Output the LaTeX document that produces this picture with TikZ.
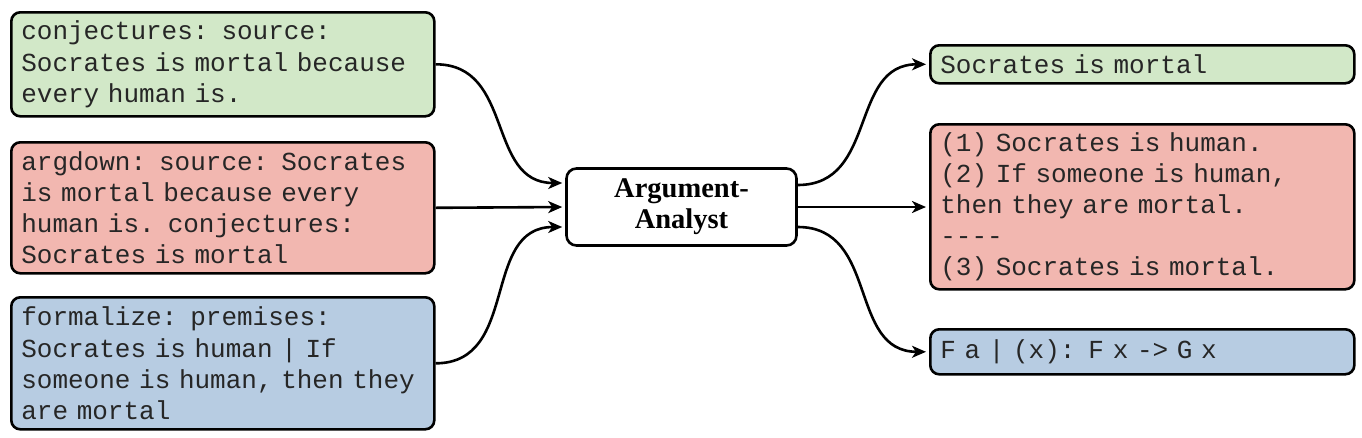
\documentclass[tikz,border=0pt]{standalone}
\usepackage{fontspec}
\setmainfont{Liberation Serif}
\setmonofont{Liberation Mono}
\usetikzlibrary{arrows.meta}
\definecolor{boxgreen}{RGB}{210,232,200}
\definecolor{boxred}{RGB}{242,183,176}
\definecolor{boxblue}{RGB}{183,204,226}
\tikzset{
  txtbox/.style={draw=black, line width=2.6pt, rounded corners=9pt, anchor=north west,
    align=left, inner xsep=10pt, inner ysep=0pt, text=black!85,
    font=\ttfamily\fontsize{26}{31.2}\selectfont},
  midbox/.style={draw=black, line width=2.6pt, rounded corners=10pt, fill=white,
    align=center, inner sep=0pt, minimum width=230pt, minimum height=77pt,
    font=\bfseries\fontsize{28.5}{31}\selectfont},
  arr/.style={line width=2.6pt, -{Stealth[length=14pt,width=12pt,inset=4pt]}, shorten >=3pt},
  curv/.style={out=0, in=180, looseness=1.15}
}
\begin{document}
\begin{tikzpicture}[x=1pt,y=-1pt]
\useasboundingbox (0,0) rectangle (1362,437);
% left inputs
\node[txtbox, fill=boxgreen, text width=403pt, minimum height=104pt] (in1) at (10,11)
  {conjectures: source:\\Socrates is mortal because\\every human is.};
\node[txtbox, fill=boxred, text width=403pt, minimum height=131pt] (in2) at (10,141)
  {argdown: source: Socrates\\is mortal because every\\human is. conjectures:\\Socrates is mortal};
\node[txtbox, fill=boxblue, text width=403pt, minimum height=132pt] (in3) at (10,296)
  {formalize: premises:\\Socrates is human | If\\someone is human, then they\\are mortal};
% center
\node[midbox] (c) at (681.5,207) {Argument-\\Analyst};
% right outputs
\node[txtbox, fill=boxgreen, text width=404pt, minimum height=38pt] (out1) at (929,44)
  {Socrates is mortal};
\node[txtbox, fill=boxred, text width=404pt, minimum height=165pt] (out2) at (929,123)
  {(1) Socrates is human.\\(2) If someone is human,\\then they are mortal.\\----\\(3) Socrates is mortal.};
\node[txtbox, fill=boxblue, text width=404pt, minimum height=45pt] (out3) at (929,328)
  {F a | (x): F x -> G x};
% connectors
\draw[arr] (in1.east) to[curv] ([yshift=24pt]c.west);
\draw[arr] (in2.east) -- (c.west);
\draw[arr] (in3.east) to[curv] ([yshift=-20pt]c.west);
\draw[arr] ([yshift=22pt]c.east) to[curv] (out1.west);
\draw[arr] (c.east) -- (out2.west |- c.east);
\draw[arr] ([yshift=-20pt]c.east) to[curv] (out3.west);
\end{tikzpicture}
\end{document}
